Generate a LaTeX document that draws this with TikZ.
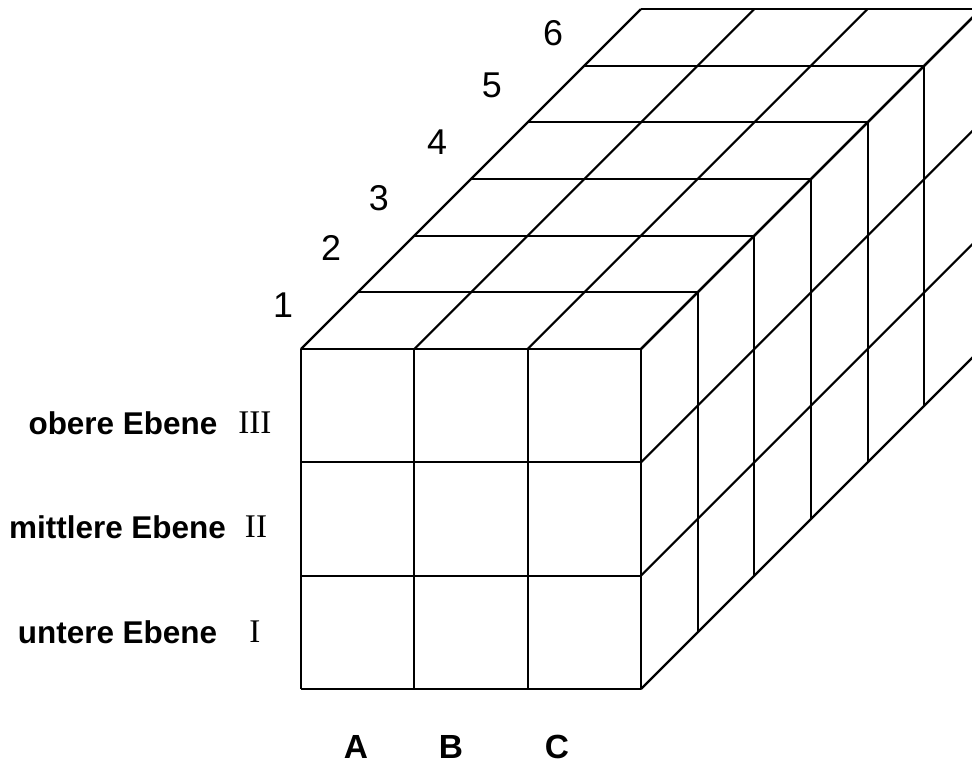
\documentclass[tikz,border=0pt]{standalone}
\usepackage{fontspec}
\setmainfont{Liberation Sans}
\newfontfamily\romfont{Liberation Serif}

\begin{document}
\begin{tikzpicture}[
    grid/.style={line width=0.55pt, line join=miter},
    num/.style={inner sep=0pt, font=\fontsize{9}{10}\selectfont},
    lvl/.style={inner sep=0pt, font=\fontsize{7.9}{9}\selectfont\bfseries},
    rom/.style={inner sep=0pt, font=\fontsize{8.3}{10}\selectfont\romfont},
    col/.style={inner sep=0pt, font=\fontsize{8.4}{10}\selectfont\bfseries}
]

\useasboundingbox (-2.656,-0.662) rectangle (5.921,6.080);
\clip (-2.656,-0.662) rectangle (5.921,6.080);

% --- front face ---
\foreach \i in {0,...,3} {
    \draw[grid] (\i,0) -- (\i,3);
    \draw[grid] (0,\i) -- (3,\i);
}

% --- top face ---
\foreach \k in {0,...,6}
    \draw[grid] (0.5*\k,3+0.5*\k) -- (3+0.5*\k,3+0.5*\k);
\foreach \i in {0,...,3}
    \draw[grid] (\i,3) -- (\i+3,6);

% --- right face ---
\foreach \k in {0,...,6}
    \draw[grid] (3+0.5*\k,0.5*\k) -- (3+0.5*\k,3+0.5*\k);
\foreach \j in {0,...,3}
    \draw[grid] (3,\j) -- (6,\j+3);

% --- depth numbers ---
\foreach \n/\x/\y in {1/-0.159/3.388, 2/0.265/3.891, 3/0.688/4.332,
                      4/1.200/4.827, 5/1.685/5.330, 6/2.224/5.789}
    \node[num] (d\n) at (\x,\y) {\n};

% --- levels ---
\node[lvl] (upper)  at (-1.571,2.347) {obere Ebene};
\node[lvl] (middle) at (-1.619,1.429) {mittlere Ebene};
\node[lvl] (lower)  at (-1.619,0.503) {untere Ebene};
\node[rom] (r3) at (-0.406,2.347) {III};
\node[rom] (r2) at (-0.397,1.429) {II};
\node[rom] (r1) at (-0.406,0.503) {I};

% --- columns ---
\node[col] (colA) at (0.485,-0.512) {A};
\node[col] (colB) at (1.324,-0.512) {B};
\node[col] (colC) at (2.259,-0.512) {C};

\end{tikzpicture}
\end{document}
